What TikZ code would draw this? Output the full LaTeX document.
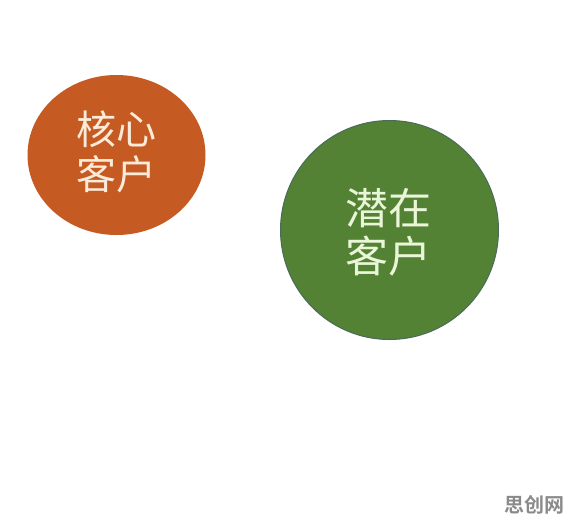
\documentclass[tikz,border=0pt]{standalone}
\usepackage{fontspec}
\newfontfamily\cjk{Noto Sans CJK SC}
\newfontfamily\cjkb{Noto Sans CJK SC Bold}
\definecolor{coreorange}{HTML}{C55A22}
\definecolor{potgreen}{HTML}{548235}
\definecolor{potedge}{HTML}{4A6A5A}
\definecolor{coretext}{HTML}{FBEBD8}
\definecolor{pottext}{HTML}{EAF6D8}
\definecolor{wmgray}{HTML}{8A8A8A}
\tikzset{
  bubble/.style={ellipse, inner sep=0pt, align=center},
  bubbletext/.style={align=center, inner sep=0pt},
}
\usetikzlibrary{shapes.geometric}
\begin{document}
\begin{tikzpicture}[x=1pt,y=-1pt]
\useasboundingbox[fill=white] (0,0) rectangle (571,523);
\node[bubble, fill=coreorange, minimum width=178pt, minimum height=160pt] (core) at (116.5,155) {};
\node[bubble, fill=potgreen, draw=potedge, line width=1pt, minimum width=218pt, minimum height=219pt] (pot) at (389.5,230) {};
\node[bubbletext, text=coretext, font=\cjk\fontsize{40}{45}\selectfont] (coretxt) at (116,152) {核心\\客户};
\node[bubbletext, text=pottext, font=\cjk\fontsize{43}{48}\selectfont] (pottxt) at (388,232) {潜在\\客户};
\node[inner sep=0pt, text=wmgray, font=\cjkb\fontsize{20}{20}\selectfont] (wm) at (534,505) {思创网};
\end{tikzpicture}
\end{document}
